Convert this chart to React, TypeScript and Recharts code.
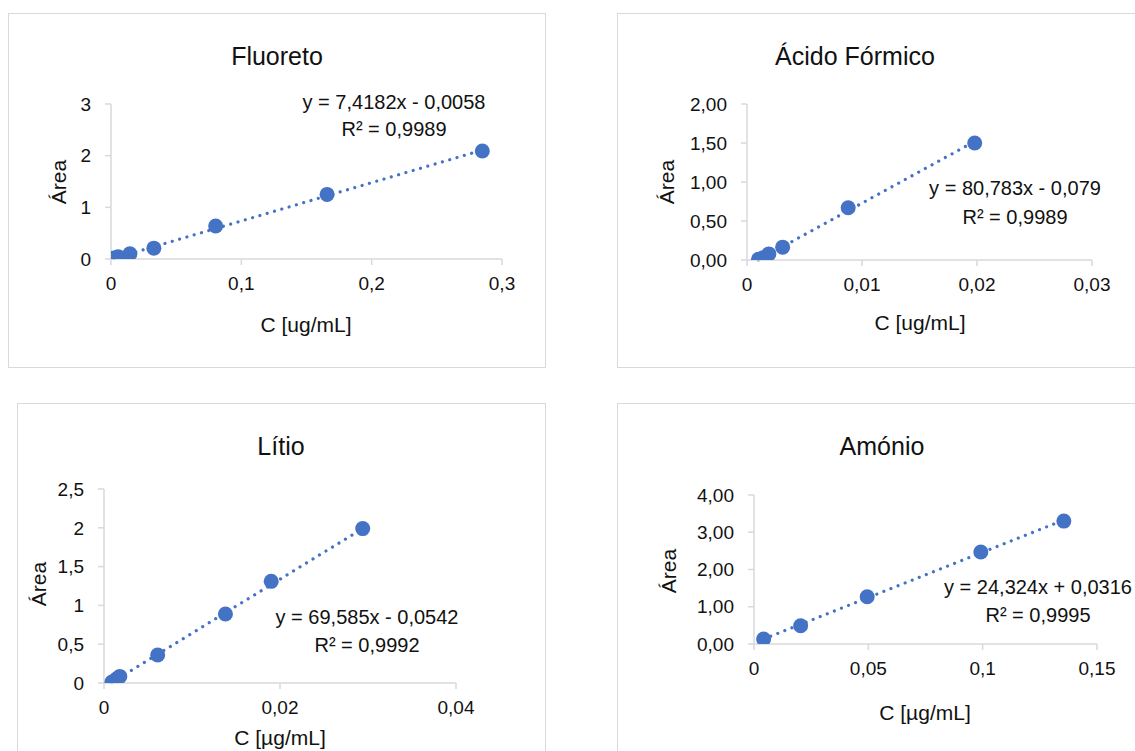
import React from 'react';
import { ScatterChart, Scatter, XAxis, YAxis, ReferenceLine } from 'recharts';

// ---------- data ----------
const fluoretoC = [0.0022, 0.0055, 0.0145, 0.0329, 0.0803, 0.1658, 0.2849];
const fluoretoArea = [0.02, 0.045, 0.1, 0.21, 0.64, 1.25, 2.09];
const fluoretoXTicks = [0, 0.1, 0.2, 0.3];
const fluoretoYTicks = [0, 1, 2, 3];
const fluoretoFit = { slope: 7.4182, intercept: -0.0058 };

const acidoC = [0.001, 0.0014, 0.0019, 0.0031, 0.0088, 0.0198];
const acidoArea = [0.01, 0.03, 0.078, 0.165, 0.67, 1.5];
const acidoXTicks = [0, 0.01, 0.02, 0.03];
const acidoYTicks = [0, 0.5, 1, 1.5, 2];
const acidoFit = { slope: 80.783, intercept: -0.079 };

const litioC = [0.0009, 0.0014, 0.0018, 0.0061, 0.0138, 0.019, 0.0294];
const litioArea = [0.013, 0.05, 0.085, 0.36, 0.89, 1.31, 1.99];
const litioXTicks = [0, 0.02, 0.04];
const litioYTicks = [0, 0.5, 1, 1.5, 2, 2.5];
const litioFit = { slope: 69.585, intercept: -0.0542 };

const amonioC = [0.0042, 0.0204, 0.0495, 0.0992, 0.1355];
const amonioArea = [0.134, 0.49, 1.27, 2.47, 3.3];
const amonioXTicks = [0, 0.05, 0.1, 0.15];
const amonioYTicks = [0, 1, 2, 3, 4];
const amonioFit = { slope: 24.324, intercept: 0.0316 };

// ---------- styles ----------
const FONT = '"Liberation Sans", Arial, sans-serif';
const BLUE = '#4472C4';
const AXIS = '#D9D9D9';
const TEXT = '#111111';
const TICK_FS = 19;
const LABEL_FS = 21;
const EQ_FS = 20;
const TITLE_FS = 25;

const fmtPlain = (v: number) => String(Number(v.toFixed(6))).replace('.', ',');
const fmt2 = (v: number) => v.toFixed(2).replace('.', ',');

type Pt = [number, number];

type PanelCfg = {
  box: { left: number; top: number; width: number; height: number };
  margin: { top: number; right: number; bottom: number; left: number };
  yWidth: number;
  xHeight: number;
  xs: number[];
  ys: number[];
  xTicks: number[];
  yTicks: number[];
  xFmt: (v: number) => string;
  yFmt: (v: number) => string;
  fit: { slope: number; intercept: number };
  title: string;
  xLabel: string;
  eq: string;
  r2: string;
  titlePos: Pt;
  xLabelPos: Pt;
  yLabelPos: Pt;
  eqPos: Pt;
  r2Pos: Pt;
};

const panels: PanelCfg[] = [
  {
    box: { left: 8, top: 13, width: 538, height: 355 },
    margin: { top: 90, right: 43, bottom: 68, left: 42 },
    yWidth: 60,
    xHeight: 40,
    xs: fluoretoC,
    ys: fluoretoArea,
    xTicks: fluoretoXTicks,
    yTicks: fluoretoYTicks,
    xFmt: fmtPlain,
    yFmt: fmtPlain,
    fit: fluoretoFit,
    title: 'Fluoreto',
    xLabel: 'C [ug/mL]',
    eq: 'y = 7,4182x - 0,0058',
    r2: 'R² = 0,9989',
    titlePos: [277, 56],
    xLabelPos: [306, 324],
    yLabelPos: [58, 182],
    eqPos: [394, 102],
    r2Pos: [394, 129],
  },
  {
    box: { left: 617, top: 13, width: 538, height: 355 },
    margin: { top: 90, right: 62, bottom: 67, left: 59 },
    yWidth: 70,
    xHeight: 40,
    xs: acidoC,
    ys: acidoArea,
    xTicks: acidoXTicks,
    yTicks: acidoYTicks,
    xFmt: fmtPlain,
    yFmt: fmt2,
    fit: acidoFit,
    title: 'Ácido Fórmico',
    xLabel: 'C [ug/mL]',
    eq: 'y = 80,783x - 0,079',
    r2: 'R² = 0,9989',
    titlePos: [855, 56],
    xLabelPos: [920, 322],
    yLabelPos: [666, 182],
    eqPos: [1015, 188],
    r2Pos: [1015, 217],
  },
  {
    box: { left: 17, top: 403, width: 529, height: 360 },
    margin: { top: 85, right: 89, bottom: 39, left: 36 },
    yWidth: 50,
    xHeight: 40,
    xs: litioC,
    ys: litioArea,
    xTicks: litioXTicks,
    yTicks: litioYTicks,
    xFmt: fmtPlain,
    yFmt: fmtPlain,
    fit: litioFit,
    title: 'Lítio',
    xLabel: 'C [µg/mL]',
    eq: 'y = 69,585x - 0,0542',
    r2: 'R² = 0,9992',
    titlePos: [281, 446],
    xLabelPos: [280, 737],
    yLabelPos: [38, 584],
    eqPos: [367, 617],
    r2Pos: [367, 645],
  },
  {
    box: { left: 617, top: 403, width: 538, height: 360 },
    margin: { top: 91, right: 57, bottom: 78, left: 66 },
    yWidth: 70,
    xHeight: 40,
    xs: amonioC,
    ys: amonioArea,
    xTicks: amonioXTicks,
    yTicks: amonioYTicks,
    xFmt: fmtPlain,
    yFmt: fmt2,
    fit: amonioFit,
    title: 'Amónio',
    xLabel: 'C [µg/mL]',
    eq: 'y = 24,324x + 0,0316',
    r2: 'R² = 0,9995',
    titlePos: [882, 446],
    xLabelPos: [925, 712],
    yLabelPos: [668, 571],
    eqPos: [1038, 587],
    r2Pos: [1038, 615],
  },
];

const Marker = (p: any) => <circle cx={p.cx} cy={p.cy} r={7.5} fill={BLUE} />;

function Txt({ pos, text, size, rotate }: { pos: Pt; text: string; size: number; rotate?: boolean }) {
  return (
    <div
      style={{
        position: 'absolute',
        left: pos[0],
        top: pos[1],
        transform: `translate(-50%, -50%)${rotate ? ' rotate(-90deg)' : ''}`,
        fontSize: size,
        fontFamily: FONT,
        color: TEXT,
        whiteSpace: 'nowrap',
        lineHeight: 1,
      }}
    >
      {text}
    </div>
  );
}

function Panel({ cfg }: { cfg: PanelCfg }) {
  const data = cfg.xs.map((x, i) => ({ x, y: cfg.ys[i] }));
  const xMin = Math.min(...cfg.xs);
  const xMax = Math.max(...cfg.xs);
  const seg = [
    { x: xMin, y: cfg.fit.slope * xMin + cfg.fit.intercept },
    { x: xMax, y: cfg.fit.slope * xMax + cfg.fit.intercept },
  ];
  const w = cfg.box.width - 2;
  const h = cfg.box.height - 2;
  const tickStyle = { fill: TEXT, fontSize: TICK_FS, fontFamily: FONT };
  return (
    <div
      style={{
        position: 'absolute',
        left: cfg.box.left,
        top: cfg.box.top,
        width: cfg.box.width,
        height: cfg.box.height,
        boxSizing: 'border-box',
        border: `1px solid ${AXIS}`,
        background: '#fff',
      }}
    >
      <ScatterChart width={w} height={h} margin={cfg.margin}>
        <XAxis
          type="number"
          dataKey="x"
          domain={[cfg.xTicks[0], cfg.xTicks[cfg.xTicks.length - 1]]}
          ticks={cfg.xTicks}
          tickFormatter={cfg.xFmt}
          height={cfg.xHeight}
          axisLine={{ stroke: AXIS, strokeWidth: 1.5 }}
          tickLine={{ stroke: AXIS, strokeWidth: 1.5 }}
          tickSize={6}
          tickMargin={12}
          tick={tickStyle}
          allowDataOverflow
        />
        <YAxis
          type="number"
          dataKey="y"
          domain={[cfg.yTicks[0], cfg.yTicks[cfg.yTicks.length - 1]]}
          ticks={cfg.yTicks}
          tickFormatter={cfg.yFmt}
          width={cfg.yWidth}
          axisLine={{ stroke: AXIS, strokeWidth: 1.5 }}
          tickLine={{ stroke: AXIS, strokeWidth: 1.5 }}
          tickSize={6}
          tickMargin={14}
          tick={tickStyle}
          allowDataOverflow
        />
        <ReferenceLine
          segment={seg}
          stroke={BLUE}
          strokeWidth={3.2}
          strokeDasharray="0.01 7.6"
          strokeLinecap="round"
          ifOverflow="visible"
        />
        <Scatter data={data} fill={BLUE} shape={Marker} isAnimationActive={false} />
      </ScatterChart>
    </div>
  );
}

export default function App() {
  return (
    <div
      style={{
        position: 'absolute',
        left: 0,
        top: 0,
        width: 1135,
        height: 751,
        overflow: 'hidden',
        background: '#fff',
      }}
    >
      {panels.map((p, i) => (
        <Panel key={i} cfg={p} />
      ))}
      {panels.map((p, i) => (
        <React.Fragment key={'t' + i}>
          <Txt pos={p.titlePos} text={p.title} size={TITLE_FS} />
          <Txt pos={p.xLabelPos} text={p.xLabel} size={LABEL_FS} />
          <Txt pos={p.yLabelPos} text="Área" size={LABEL_FS} rotate />
          <Txt pos={p.eqPos} text={p.eq} size={EQ_FS} />
          <Txt pos={p.r2Pos} text={p.r2} size={EQ_FS} />
        </React.Fragment>
      ))}
    </div>
  );
}
